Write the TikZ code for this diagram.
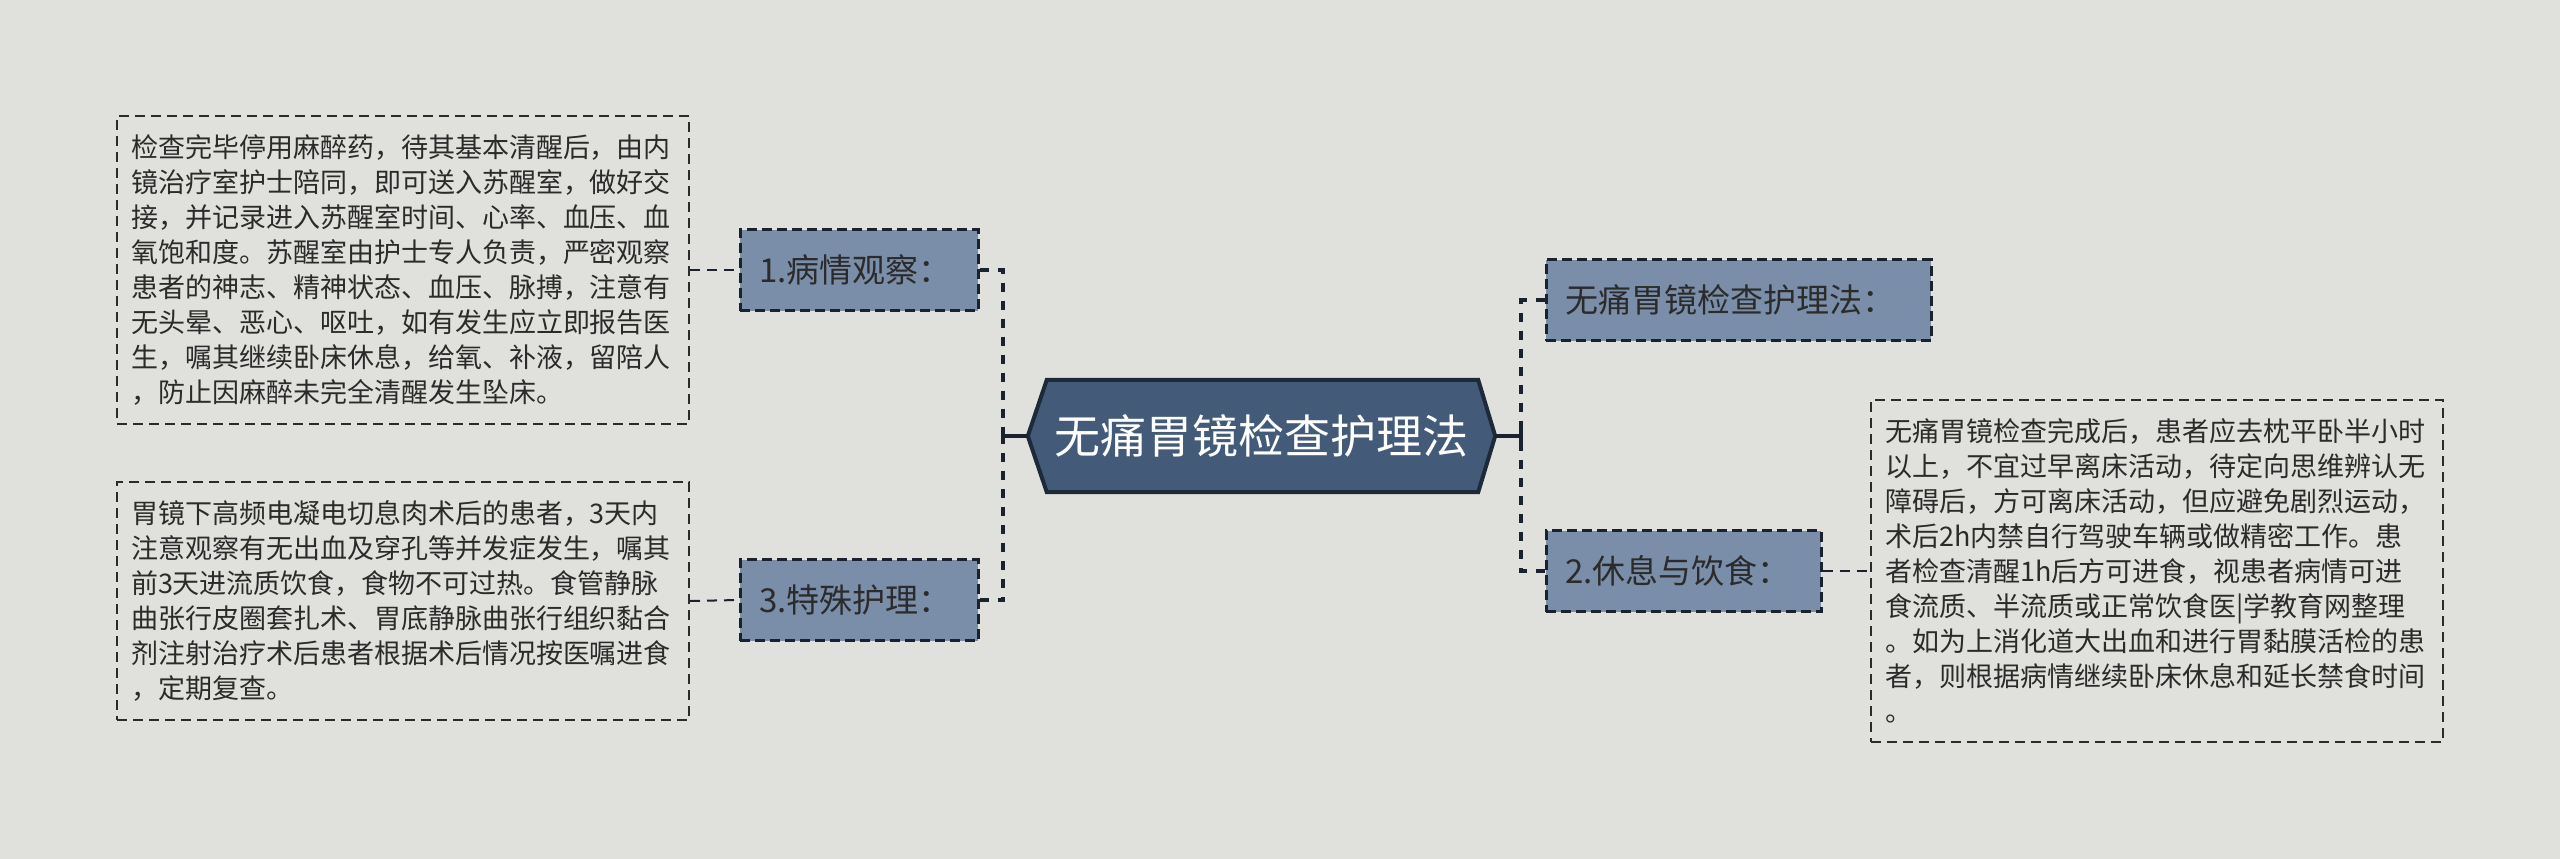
\documentclass[tikz,border=0pt]{standalone}
\usepackage{fontspec}
\setmainfont{Noto Sans CJK SC}
\definecolor{bgc}{HTML}{E0E1DC}
\definecolor{subfill}{HTML}{7A8DA9}
\definecolor{hexfill}{HTML}{435A78}
\definecolor{hexline}{HTML}{1E2A3A}
\definecolor{linec}{HTML}{1A2230}
\definecolor{txtc}{HTML}{2B2B2B}
\tikzset{
  textbox/.style={draw=txtc, line width=2pt, dash pattern=on 10pt off 6pt, align=left,
    text=txtc, inner xsep=14pt, inner ysep=0pt, text width=544pt, minimum height=#1,
    font=\fontsize{27pt}{35pt}\selectfont},
  subnode/.style={draw=linec, fill=subfill, line width=3pt, dash pattern=on 10pt off 5pt,
    align=left, text=txtc, inner xsep=19pt, inner ysep=0pt, minimum height=81pt,
    font=\fontsize{33pt}{40pt}\selectfont},
  dashc/.style={draw=linec, line width=4pt, dash pattern=on 9pt off 9pt},
  thinc/.style={draw=linec, line width=2pt, dash pattern=on 10pt off 7pt},
  solidc/.style={draw=linec, line width=4pt},
}
\begin{document}
\begin{tikzpicture}[x=1pt,y=-1pt]
\fill[bgc] (0,0) rectangle (2560,859);
\useasboundingbox (0,0) rectangle (2560,859);

% root
\node[minimum width=467pt, minimum height=112pt, inner sep=0pt] (root) at (1261.5,436) {};
\filldraw[fill=hexfill, draw=hexline, line width=4pt, line join=miter]
  (root.west) -- ([xshift=19pt]root.north west) -- ([xshift=-17pt]root.north east) -- (root.east)
  -- ([xshift=-17pt]root.south east) -- ([xshift=19pt]root.south west) -- cycle;
\node[text=white, font=\fontsize{46pt}{50pt}\selectfont] (roottext) at (root.center) {无痛胃镜检查护理法};

% sub nodes
\node[subnode, text width=200pt] (n1) at (859,270) {1.病情观察：};
\node[subnode, text width=200pt] (n3) at (859,600) {3.特殊护理：};
\node[subnode, text width=347pt] (n0) at (1738.5,300) {无痛胃镜检查护理法：};
\node[subnode, text width=237pt] (n2) at (1683.5,571) {2.休息与饮食：};

% text boxes
\node[textbox=308pt] (t1) at (403,270) {检查完毕停用麻醉药，待其基本清醒后，由内\\镜治疗室护士陪同，即可送入苏醒室，做好交\\接，并记录进入苏醒室时间、心率、血压、血\\氧饱和度。苏醒室由护士专人负责，严密观察\\患者的神志、精神状态、血压、脉搏，注意有\\无头晕、恶心、呕吐，如有发生应立即报告医\\生，嘱其继续卧床休息，给氧、补液，留陪人\\，防止因麻醉未完全清醒发生坠床。};
\node[textbox=238pt] (t2) at (403,601) {胃镜下高频电凝电切息肉术后的患者，3天内\\注意观察有无出血及穿孔等并发症发生，嘱其\\前3天进流质饮食，食物不可过热。食管静脉\\曲张行皮圈套扎术、胃底静脉曲张行组织黏合\\剂注射治疗术后患者根据术后情况按医嘱进食\\，定期复查。};
\node[textbox=342pt] (t3) at (2157,571) {无痛胃镜检查完成后，患者应去枕平卧半小时\\以上，不宜过早离床活动，待定向思维辨认无\\障碍后，方可离床活动，但应避免剧烈运动，\\术后2h内禁自行驾驶车辆或做精密工作。患\\者检查清醒1h后方可进食，视患者病情可进\\食流质、半流质或正常饮食医|学教育网整理\\。如为上消化道大出血和进行胃黏膜活检的患\\者，则根据病情继续卧床休息和延长禁食时间\\。};

% junctions
\coordinate (jl) at (1003,436);
\coordinate (jr) at (1521,436);

% connectors
\draw[solidc] (root.west) -- (jl);
\draw[solidc] ([yshift=-8pt]jl) -- ([yshift=8pt]jl);
\draw[solidc] (root.east) -- (jr);
\draw[solidc] ([yshift=-8pt]jr) -- ([yshift=8pt]jr);
\draw[dashc] (n1.east) -| (jl);
\draw[dashc] (n3.east) -| (jl);
\draw[dashc] (n0.west) -| (jr);
\draw[dashc] (n2.west) -| (jr);
\draw[thinc] (t1.east) -- (n1.west);
\draw[thinc] (t2.east) -- (n3.west);
\draw[thinc] (n2.east) -- (t3.west);
\end{tikzpicture}
\end{document}
